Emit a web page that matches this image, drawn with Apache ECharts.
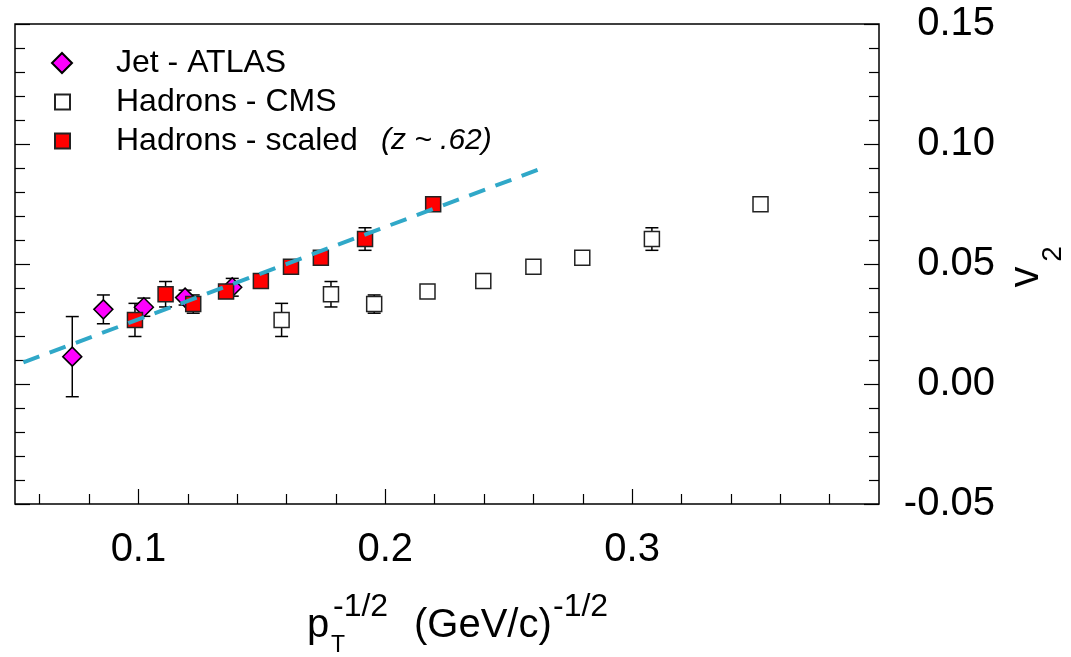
<!DOCTYPE html>
<html>
<head>
<meta charset="utf-8">
<script src="https://cdn.jsdelivr.net/npm/echarts@6/dist/echarts.min.js"></script>
<style>
  html, body { margin: 0; padding: 0; background: #ffffff; }
  #chart { width: 1071px; height: 657px; }
</style>
</head>
<body>
<div id="chart"></div>
<script>
// Jet v2 measured by ATLAS
const atlasX   = [0.0732, 0.0858, 0.1022, 0.1189, 0.1380];
const atlasY   = [0.0114, 0.0311, 0.0320, 0.0360, 0.0403];
const atlasErr = [0.0167, 0.0060, 0.0038, 0.0031, 0.0037];

// Charged hadron v2 measured by CMS
const cmsX   = [0.1580, 0.1780, 0.1955, 0.2171, 0.2397, 0.2600, 0.2798, 0.3080, 0.3520];
const cmsY   = [0.0267, 0.0374, 0.0333, 0.0385, 0.0429, 0.0489, 0.0526, 0.0604, 0.0749];
const cmsErr = [0.0069, 0.0053, 0.0038, 0.0020, 0.0020, 0.0020, 0.0020, 0.0047, 0.0020];

// Hadron points moved to the jet scale, z ~ 0.62
const scaledX   = [0.0986, 0.1110, 0.1222, 0.1355, 0.1496, 0.1618, 0.1739, 0.1918, 0.2194];
const scaledY   = [0.0267, 0.0374, 0.0333, 0.0385, 0.0429, 0.0489, 0.0526, 0.0604, 0.0749];
const scaledErr = [0.0069, 0.0053, 0.0038, 0.0020, 0.0020, 0.0020, 0.0020, 0.0047, 0.0020];

// Straight-line fit through the scaled points (end points)
const fitX = [0.0534, 0.2620];
const fitY = [0.0090, 0.0893];

// Axis ticks
const xMajorTicks = [0.1, 0.2, 0.3];
const xMinorTicks = [0.06, 0.08, 0.12, 0.14, 0.16, 0.18, 0.22, 0.24, 0.26, 0.28, 0.32, 0.34, 0.36, 0.38];
const xRange = [0.05, 0.40];
const yRange = [-0.05, 0.15];
const yStep = 0.05;

const FONT = '"Liberation Sans", Arial, Helvetica, sans-serif';
const INK = '#000000';

const pairs = (xs, ys) => xs.map((x, i) => [x, ys[i]]);
const triples = (xs, ys, es) => xs.map((x, i) => [x, ys[i], es[i]]);

// Vertical error bar with caps
function errorBar(params, api) {
  const x = api.value(0), y = api.value(1), e = api.value(2);
  const hi = api.coord([x, y + e]);
  const lo = api.coord([x, y - e]);
  const cap = 6.5;
  const st = { stroke: INK, lineWidth: 1.5 };
  return {
    type: 'group',
    children: [
      { type: 'line', shape: { x1: hi[0], y1: hi[1], x2: lo[0], y2: lo[1] }, style: st },
      { type: 'line', shape: { x1: hi[0] - cap, y1: hi[1], x2: hi[0] + cap, y2: hi[1] }, style: st },
      { type: 'line', shape: { x1: lo[0] - cap, y1: lo[1], x2: lo[0] + cap, y2: lo[1] }, style: st }
    ]
  };
}

function errorSeries(id, xs, ys, es) {
  return {
    id: id,
    type: 'custom',
    renderItem: errorBar,
    data: triples(xs, ys, es),
    encode: { x: 0, y: 1 },
    z: 2,
    silent: true
  };
}

const legendText = {
  fontFamily: FONT,
  fontSize: 32,
  color: INK,
  lineHeight: 36
};

const tickStyle = { color: INK, width: 1.2 };

const chart = echarts.init(document.getElementById('chart'), null, { renderer: 'canvas' });

chart.setOption({
  backgroundColor: '#ffffff',
  animation: false,
  grid: {
    left: 15, right: 192, top: 24, bottom: 153,
    show: true, borderColor: INK, borderWidth: 1.5, backgroundColor: 'transparent'
  },
  xAxis: [
    {
      type: 'value', min: xRange[0], max: xRange[1], position: 'bottom',
      axisLine: { show: false, onZero: false },
      splitLine: { show: false },
      axisTick: { show: true, inside: true, length: 15, customValues: xMajorTicks, lineStyle: tickStyle },
      axisLabel: {
        show: true, customValues: xMajorTicks, margin: 26,
        fontFamily: FONT, fontSize: 40, lineHeight: 40, color: INK,
        formatter: v => String(+v.toFixed(1))
      }
    },
    {
      type: 'value', min: xRange[0], max: xRange[1], position: 'bottom',
      axisLine: { show: false, onZero: false },
      splitLine: { show: false },
      axisTick: { show: true, inside: true, length: 10, customValues: xMinorTicks, lineStyle: tickStyle },
      axisLabel: { show: false }
    }
  ],
  yAxis: [
    {
      type: 'value', position: 'left', min: yRange[0], max: yRange[1], interval: yStep,
      axisLine: { show: false, onZero: false },
      splitLine: { show: false },
      axisTick: { show: true, inside: true, length: 15, lineStyle: tickStyle },
      minorTick: { show: true, splitNumber: 5, length: 10, lineStyle: tickStyle },
      axisLabel: { show: false }
    },
    {
      type: 'value', position: 'right', min: yRange[0], max: yRange[1], interval: yStep,
      axisLine: { show: false, onZero: false },
      splitLine: { show: false },
      axisTick: { show: true, inside: true, length: 15, lineStyle: tickStyle },
      minorTick: { show: true, splitNumber: 5, length: 10, lineStyle: tickStyle },
      axisLabel: {
        show: true, align: 'right', margin: 116,
        fontFamily: FONT, fontSize: 40, color: INK,
        formatter: v => (Math.abs(v) < 1e-9 ? 0 : v).toFixed(2)
      }
    }
  ],
  legend: [
    {
      data: ['Jet - ATLAS'], orient: 'vertical', left: 51, top: 45, padding: 0,
      itemWidth: 20, itemHeight: 20, selectedMode: false,
      textStyle: Object.assign({ padding: [0, 0, 0, 39] }, legendText)
    },
    {
      data: ['Hadrons - CMS'], orient: 'vertical', left: 54, top: 84, padding: 0,
      itemWidth: 15, itemHeight: 15, selectedMode: false,
      textStyle: Object.assign({ padding: [0, 0, 0, 41] }, legendText)
    },
    {
      data: ['Hadrons - scaled'], orient: 'vertical', left: 54, top: 123, padding: 0,
      itemWidth: 15, itemHeight: 15, selectedMode: false,
      formatter: name => '{n|' + name + '}{z|(z ~ .62)}',
      textStyle: Object.assign({
        padding: [0, 0, 0, 41],
        rich: {
          n: { fontFamily: FONT, fontSize: 32, color: INK, lineHeight: 36 },
          z: { fontFamily: FONT, fontSize: 30, fontStyle: 'italic', color: INK, lineHeight: 36, padding: [0, 0, 0, 23] }
        }
      }, legendText)
    }
  ],
  series: [
    errorSeries('atlasErr', atlasX, atlasY, atlasErr),
    errorSeries('cmsErr', cmsX, cmsY, cmsErr),
    errorSeries('scaledErr', scaledX, scaledY, scaledErr),
    {
      name: 'Jet - ATLAS', type: 'scatter', z: 3,
      symbol: 'diamond', symbolSize: 19,
      itemStyle: { color: '#ff00ff', borderColor: INK, borderWidth: 1.5, opacity: 1 },
      data: pairs(atlasX, atlasY)
    },
    {
      name: 'Hadrons - CMS', type: 'scatter', z: 3,
      symbol: 'rect', symbolSize: 15,
      itemStyle: { color: '#ffffff', borderColor: '#222222', borderWidth: 1.5, opacity: 1 },
      data: pairs(cmsX, cmsY)
    },
    {
      name: 'Hadrons - scaled', type: 'scatter', z: 4,
      symbol: 'rect', symbolSize: 15,
      itemStyle: { color: '#ff0000', borderColor: '#222222', borderWidth: 1.5, opacity: 1 },
      data: pairs(scaledX, scaledY)
    },
    {
      name: 'fit', type: 'line', z: 5, silent: true,
      showSymbol: false, symbol: 'none',
      lineStyle: { color: '#30a8c8', width: 4, type: [17, 11], cap: 'butt' },
      data: pairs(fitX, fitY)
    }
  ],
  graphic: [
    // x-axis title: p_T^{-1/2} (GeV/c)^{-1/2}
    { type: 'text', x: 307, y: 626, style: { text: 'p', font: '40px ' + FONT, fill: INK, align: 'left', verticalAlign: 'middle' } },
    { type: 'text', x: 331, y: 646, style: { text: 'T', font: '23px ' + FONT, fill: INK, align: 'left', verticalAlign: 'middle' } },
    { type: 'text', x: 333, y: 607, style: { text: '-1/2', font: '32px ' + FONT, fill: INK, align: 'left', verticalAlign: 'middle' } },
    { type: 'text', x: 414, y: 626, style: { text: '(GeV/c)', font: '40px ' + FONT, fill: INK, align: 'left', verticalAlign: 'middle' } },
    { type: 'text', x: 553, y: 607, style: { text: '-1/2', font: '32px ' + FONT, fill: INK, align: 'left', verticalAlign: 'middle' } },
    // y-axis title: v_2, reading bottom to top
    { type: 'text', x: 1026, y: 277, rotation: Math.PI / 2, style: { text: 'v', font: '42px ' + FONT, fill: INK, align: 'center', verticalAlign: 'middle' } },
    { type: 'text', x: 1053, y: 254, rotation: Math.PI / 2, style: { text: '2', font: '28px ' + FONT, fill: INK, align: 'center', verticalAlign: 'middle' } }
  ]
});
</script>
</body>
</html>
